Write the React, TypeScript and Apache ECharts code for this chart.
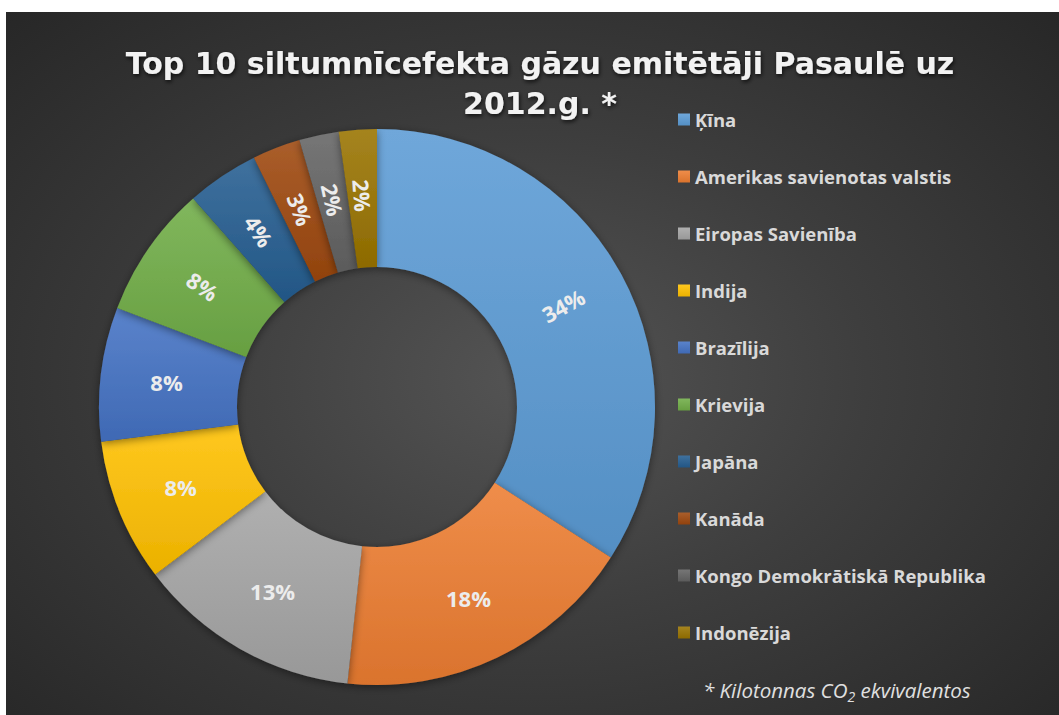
import React, { useEffect, useRef } from "react";
import * as echarts from "echarts";

// ---- data ----
const categories: string[] = [
  "Ķīna",
  "Amerikas savienotas valstis",
  "Eiropas Savienība",
  "Indija",
  "Brazīlija",
  "Krievija",
  "Japāna",
  "Kanāda",
  "Kongo Demokrātiskā Republika",
  "Indonēzija",
];
// shares of the top-10 total (%)
const shares: number[] = [34.1, 17.6, 13.0, 8.3, 7.8, 7.7, 4.2, 2.8, 2.3, 2.2];
const titleLines: string[] = [
  "Top 10 siltumnīcefekta gāzu emitētāji Pasaulē uz",
  "2012.g. *",
];
const footnoteParts: string[] = ["* Kilotonnas CO", "2", " ekvivalentos"];

// ---- style ----
const baseColors = [
  "#5b9bd5",
  "#ed7d31",
  "#a5a5a5",
  "#ffc000",
  "#4472c4",
  "#70ad47",
  "#255e91",
  "#9e480e",
  "#636363",
  "#997300",
];
const horizontalLabelItems = new Set([1, 2, 3, 4]);

function shade(hex: string, amt: number): string {
  const n = parseInt(hex.slice(1), 16);
  let r = (n >> 16) & 255;
  let g = (n >> 8) & 255;
  let b = n & 255;
  const f = (c: number) =>
    Math.round(amt >= 0 ? c + (255 - c) * amt : c * (1 + amt));
  r = f(r);
  g = f(g);
  b = f(b);
  return "#" + ((1 << 24) | (r << 16) | (g << 8) | b).toString(16).slice(1);
}

const FONT = "'Open Sans', Lato, 'DejaVu Sans', sans-serif";
const TITLE_FONT = "'DejaVu Sans', 'Open Sans', sans-serif";

export default function App() {
  const ref = useRef<HTMLDivElement>(null);

  useEffect(() => {
    if (!ref.current) return;
    const chart = echarts.init(ref.current, undefined, { renderer: "svg" });

    const data = categories.map((name, i) => ({
      name,
      value: shares[i],
      itemStyle: {
        color: new echarts.graphic.LinearGradient(0, 0, 0, 1, [
          { offset: 0, color: shade(baseColors[i], 0.12) },
          { offset: 1, color: shade(baseColors[i], -0.08) },
        ]),
      },
      label: horizontalLabelItems.has(i) ? { rotate: 0 } : { rotate: "radial" },
    }));

    chart.setOption({
      animation: false,
      backgroundColor: "transparent",
      legend: {
        orient: "vertical",
        left: 667,
        top: 93,
        itemWidth: 12,
        itemHeight: 12,
        itemGap: 38,
        icon: "rect",
        selectedMode: false,
        data: categories,
        textStyle: {
          color: "#d9d9d9",
          fontSize: 18.5,
          fontWeight: "bold",
          fontFamily: FONT,
        },
      },
      series: [
        {
          type: "pie",
          center: [371, 395],
          radius: [140, 278],
          startAngle: 90,
          clockwise: true,
          avoidLabelOverlap: false,
          percentPrecision: 0,
          label: {
            show: true,
            position: "inside",
            rotate: "radial",
            formatter: "{d}%",
            color: "#ececec",
            fontSize: 22,
            fontWeight: "bold",
            fontFamily: FONT,
          },
          labelLine: { show: false },
          itemStyle: {
            borderWidth: 0,
            shadowBlur: 8,
            shadowColor: "rgba(0,0,0,0.45)",
            shadowOffsetY: 2,
          },
          emphasis: { disabled: true },
          data,
        },
      ],
      graphic: [
        {
          type: "text",
          x: 534,
          y: 31,
          style: {
            text: titleLines.join("\n"),
            align: "center",
            verticalAlign: "top",
            fill: "#f2f2f2",
            fontSize: 30,
            fontWeight: "bold",
            fontFamily: TITLE_FONT,
            lineHeight: 40,
            textShadowColor: "rgba(0,0,0,0.75)",
            textShadowBlur: 4,
            textShadowOffsetX: 1,
            textShadowOffsetY: 2,
          },
        },
        {
          type: "text",
          x: 697,
          y: 678,
          style: {
            text: `{a|${footnoteParts[0]}}{s|${footnoteParts[1]}}{a|${footnoteParts[2]}}`,
            verticalAlign: "middle",
            rich: {
              a: {
                fill: "#e0e0e0",
                fontSize: 20.5,
                fontStyle: "italic",
                fontFamily: FONT,
                lineHeight: 26,
                verticalAlign: "middle",
              },
              s: {
                fill: "#e0e0e0",
                fontSize: 14,
                fontStyle: "italic",
                fontFamily: FONT,
                lineHeight: 26,
                verticalAlign: "bottom",
              },
            },
          },
        },
      ],
    });

    return () => chart.dispose();
  }, []);

  return (
    <div
      style={{
        position: "absolute",
        left: 6,
        top: 12,
        width: 1053,
        height: 703,
        background:
          "radial-gradient(ellipse farthest-corner at 50% 52%, #545454 0%, #3e3e3e 45%, #272727 100%)",
      }}
    >
      <div ref={ref} style={{ width: 1053, height: 703 }} />
    </div>
  );
}
